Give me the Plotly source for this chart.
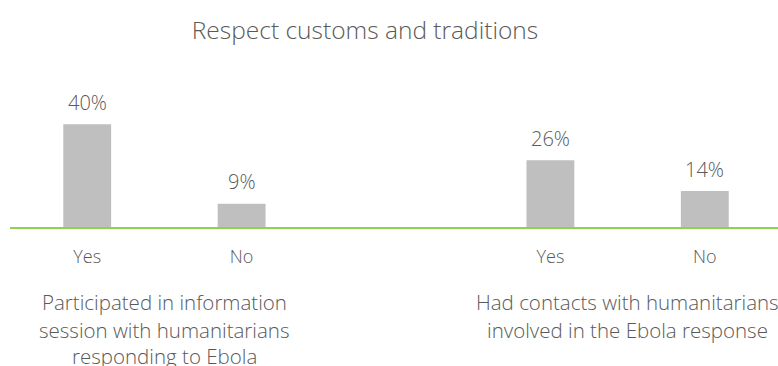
import plotly.graph_objects as go

# Survey results: share who say humanitarians respect customs and traditions
groups = [
    "Participated in information<br>session with humanitarians<br>responding to Ebola",
    "Had contacts with humanitarians<br>involved in the Ebola response",
]
answers = ["Yes", "No"]
values = [[40, 9], [26, 14]]

GREY_TEXT = "#595959"
BAR = "#bfbfbf"
GREEN = "#92d050"
FONT = "Open Sans"

# each group takes two slots, with one empty slot between groups
xs, ys, labels = [], [], []
for g, row in enumerate(values):
    for i, v in enumerate(row):
        xs.append(g * 3 + i)
        ys.append(v)
        labels.append(answers[i])

fig = go.Figure(
    go.Bar(
        x=xs,
        y=ys,
        width=0.31,
        marker=dict(color=BAR, line=dict(width=0)),
        hoverinfo="skip",
    )
)

# value labels above each bar
for x, v in zip(xs, ys):
    fig.add_annotation(
        x=x, y=v, xref="x", yref="y",
        text=f"{v}%", showarrow=False,
        yanchor="middle", yshift=22,
        font=dict(family=FONT, size=20, color=GREY_TEXT, weight=300),
    )

# group captions below the answer labels
line_offsets = [-75, -103, -129]
for g, text in enumerate(groups):
    center = g * 3 + 0.5
    for k, line in enumerate(text.split("<br>")):
        fig.add_annotation(
            x=center, y=0, xref="x", yref="paper",
            text=line, showarrow=False,
            xanchor="center", yanchor="middle", yshift=line_offsets[k],
            font=dict(family=FONT, size=20.5, color=GREY_TEXT, weight=300),
        )

fig.update_layout(
    width=778,
    height=366,
    margin=dict(l=10, r=0, t=70, b=139),
    plot_bgcolor="white",
    paper_bgcolor="white",
    showlegend=False,
    title=dict(
        text="Respect customs and traditions",
        x=365 / 778, xanchor="center",
        y=1 - 30 / 366, yanchor="middle",
        font=dict(family=FONT, size=24.5, color=GREY_TEXT, weight=300),
    ),
)

fig.update_xaxes(
    range=[-0.5, 4.474],
    tickmode="array",
    tickvals=xs,
    ticktext=labels,
    ticks="",
    ticklabelstandoff=12,
    tickfont=dict(family=FONT, size=18, color=GREY_TEXT, weight=300),
    showgrid=False,
    zeroline=False,
    showline=True,
    linecolor=GREEN,
    linewidth=2,
)
fig.update_yaxes(
    range=[0, 61.1],
    visible=False,
    showgrid=False,
    zeroline=False,
)

fig.write_html("out.html")
